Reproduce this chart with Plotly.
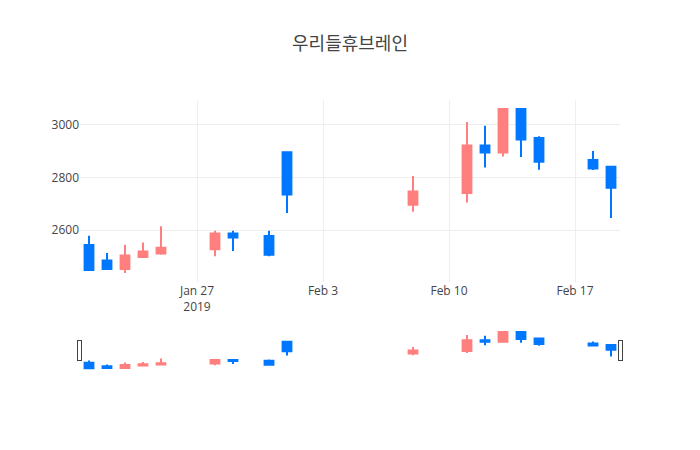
import plotly.graph_objects as go

dates = ["2019-01-21", "2019-01-22", "2019-01-23", "2019-01-24", "2019-01-25",
         "2019-01-28", "2019-01-29", "2019-01-31", "2019-02-01",
         "2019-02-08", "2019-02-11", "2019-02-12", "2019-02-13", "2019-02-14",
         "2019-02-15", "2019-02-18", "2019-02-19"]
open_ = [2543, 2484, 2452, 2497, 2511, 2527, 2587, 2577, 2896,
         2696, 2741, 2922, 2895, 3060, 2950, 2866, 2841]
high = [2578, 2513, 2544, 2553, 2614, 2597, 2597, 2597, 2896,
        2806, 3011, 2997, 3060, 3060, 2957, 2901, 2841]
low = [2448, 2450, 2437, 2497, 2506, 2500, 2520, 2500, 2665,
       2670, 2705, 2838, 2880, 2878, 2829, 2828, 2646]
close = [2448, 2452, 2503, 2518, 2533, 2587, 2572, 2506, 2735,
         2747, 2922, 2895, 3060, 2944, 2860, 2834, 2761]

title = "우리들휴브레인"

fig = go.Figure(go.Candlestick(
    x=dates, open=open_, high=high, low=low, close=close,
    increasing=dict(line=dict(color="#FF7F7F"), fillcolor="#FF7F7F"),
    decreasing=dict(line=dict(color="#0077FF"), fillcolor="#0077FF"),
))
fig.update_layout(
    template="none",
    width=700, height=450,
    title=dict(text=title, x=0.5, font=dict(size=18)),
    font=dict(family='"Open Sans", "Noto Sans CJK KR", verdana, arial, sans-serif'),
    showlegend=False,
    xaxis=dict(rangeslider=dict(visible=True)),
)
fig.write_html("out.html")
